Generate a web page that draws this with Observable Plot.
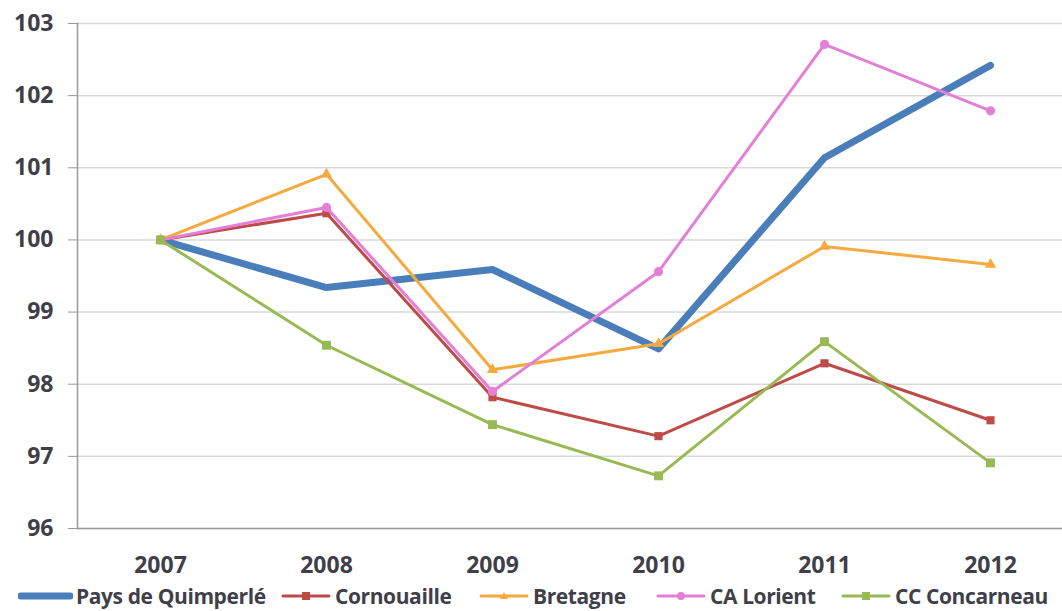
<!DOCTYPE html>
<html>
<head>
<meta charset="utf-8">
<script src="https://cdn.jsdelivr.net/npm/d3@7"></script>
<script src="https://cdn.jsdelivr.net/npm/@observablehq/plot@0.6"></script>
<style>
  body { margin: 0; background: #fff; font-family: "Open Sans", sans-serif; }
  #chart svg { display: block; }
  #legend { position: relative; height: 31px; font-weight: 700; font-size: 21px; color: #3f3f4a; letter-spacing: -0.4px; }
  .item { position: absolute; top: 0; height: 31px; display: flex; align-items: center; white-space: nowrap; }
  .item svg { margin-right: 3px; }
</style>
</head>
<body>
<div id="chart"></div>
<div id="legend"></div>
<script>
const years = ["2007", "2008", "2009", "2010", "2011", "2012"];
const seriesNames = ["Pays de Quimperlé", "Cornouaille", "Bretagne", "CA Lorient", "CC Concarneau"];
const quimperle = [100, 99.34, 99.59, 98.49, 101.14, 102.42];
const cornouaille = [100, 100.37, 97.82, 97.28, 98.29, 97.50];
const bretagne = [100, 100.91, 98.20, 98.56, 99.91, 99.66];
const lorient = [100, 100.45, 97.90, 99.56, 102.71, 101.79];
const concarneau = [100, 98.54, 97.44, 96.73, 98.59, 96.91];
const yTicks = [96, 97, 98, 99, 100, 101, 102, 103];

const colors = ["#4a7ebb", "#be4b48", "#f5a93f", "#e47fd8", "#98b954"];
const widths = [7, 3, 3, 3, 3];
const symbols = [null, "square", "triangle", "circle", "square"];
const radii = [0, 4.6, 4.2, 4.6, 5];
const values = [quimperle, cornouaille, bretagne, lorient, concarneau];
const legendLeft = [18, 280, 478, 655, 840];

const data = [];
seriesNames.forEach((s, i) => years.forEach((y, j) => data.push({series: s, year: y, value: values[i][j], idx: i})));

const textColor = "#3f3f4a";
const marks = [
  Plot.gridY(yTicks, {stroke: "#d9d9d9", strokeOpacity: 1, strokeWidth: 1.5}),
  Plot.ruleY([96], {stroke: "#999", strokeWidth: 1.5}),
  Plot.frame({anchor: "left", stroke: "#999", strokeWidth: 1.5}),
  Plot.axisY(yTicks, {tickSize: 9, tickPadding: 15, fontSize: 23, fontWeight: 700, fill: textColor, stroke: "#999", tickFormat: "d"}),
  Plot.axisX({tickSize: 0, tickPadding: 28, fontSize: 23, fontWeight: 700, fill: textColor})
];
seriesNames.forEach((s, i) => {
  const d = data.filter(r => r.idx === i);
  marks.push(Plot.line(d, {x: "year", y: "value", stroke: colors[i], strokeWidth: widths[i], strokeLinejoin: "round", strokeLinecap: "round"}));
  if (symbols[i]) marks.push(Plot.dot(d, {x: "year", y: "value", symbol: () => symbols[i], fill: colors[i], r: radii[i], stroke: "none"}));
});

const plot = Plot.plot({
  width: 1062, height: 580,
  marginLeft: 77, marginRight: 0, marginTop: 23, marginBottom: 52,
  style: {fontFamily: "Open Sans, sans-serif", background: "#fff", overflow: "hidden"},
  x: {type: "point", domain: years, range: [77, 1073], padding: 0.5, label: null},
  y: {domain: [96, 103], label: null},
  symbol: {type: "identity"},
  marks
});
document.getElementById("chart").append(plot);

const legend = document.getElementById("legend");
seriesNames.forEach((s, i) => {
  const item = document.createElement("div");
  item.className = "item";
  item.style.left = legendLeft[i] + "px";
  const w = i === 0 ? 55 : 52;
  let sym = "";
  if (symbols[i] === "square") sym = `<rect x="${w/2-4}" y="6" width="8" height="8" fill="${colors[i]}"/>`;
  if (symbols[i] === "triangle") sym = `<path d="M${w/2},6 L${w/2+4},13 L${w/2-4},13Z" fill="${colors[i]}"/>`;
  if (symbols[i] === "circle") sym = `<circle cx="${w/2}" cy="10" r="4" fill="${colors[i]}"/>`;
  item.innerHTML = `<svg width="${w}" height="20"><line x1="3" x2="${w-3}" y1="10" y2="10" stroke="${colors[i]}" stroke-width="${i===0?7:3}" stroke-linecap="round"/>${sym}</svg><span>${s}</span>`;
  legend.append(item);
});
</script>
</body>
</html>
